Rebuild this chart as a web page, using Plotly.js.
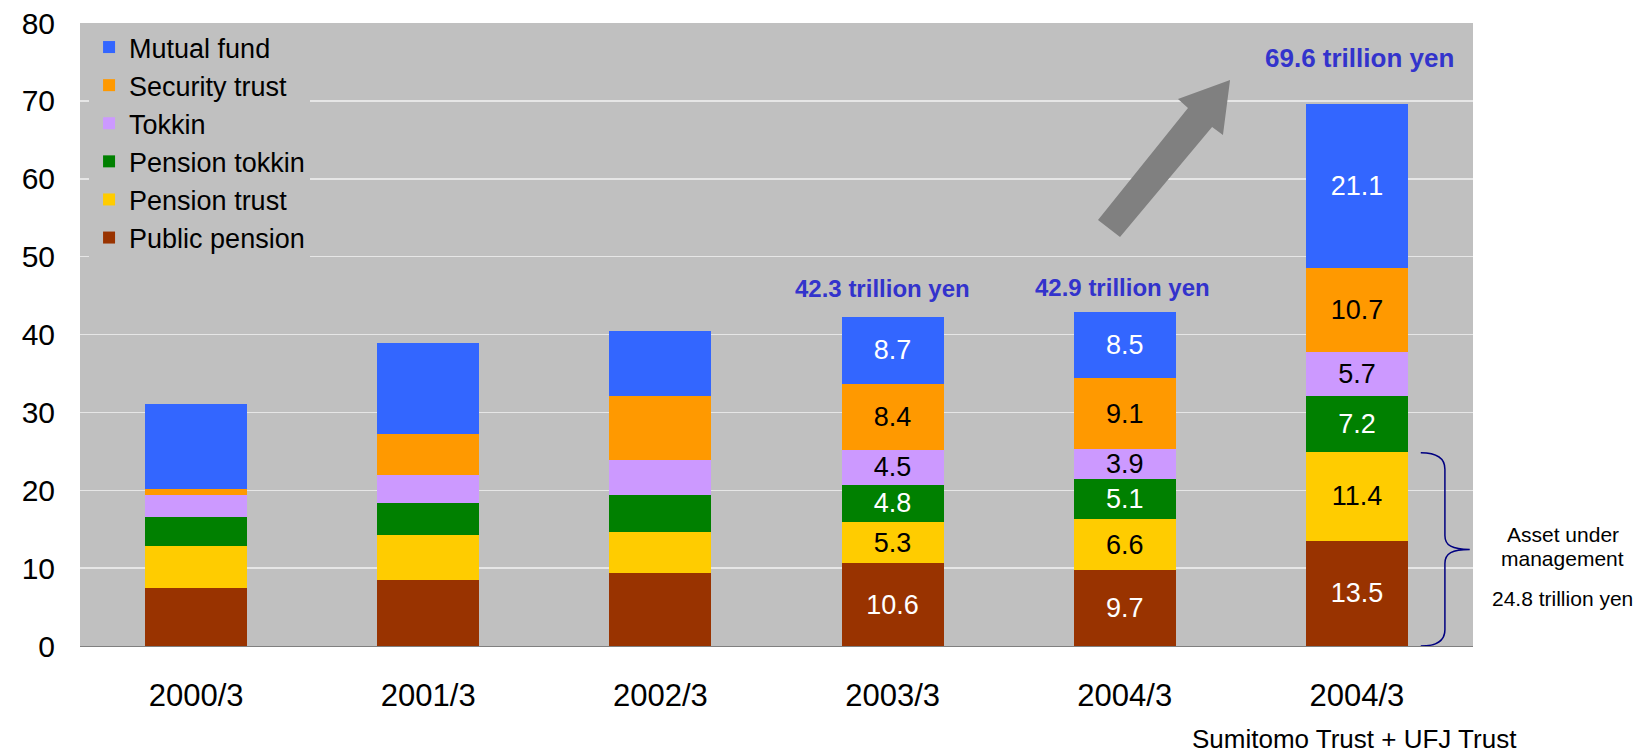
<!DOCTYPE html>
<html>
<head>
<meta charset="utf-8">
<script src="https://cdn.plot.ly/plotly-3.0.1.min.js"></script>
<style>
  html, body { margin: 0; padding: 0; background: #ffffff; }
  #chart { width: 1652px; height: 753px; }
</style>
</head>
<body>
<div id="chart"></div>
<script>
// ---- data ----
const categories = ["2000/3", "2001/3", "2002/3", "2003/3", "2004/3", "2004/3"];
const categoryNote = "Sumitomo Trust + UFJ Trust";

const publicPension  = [7.4, 8.5, 9.4, 10.6, 9.7, 13.5];
const pensionTrust   = [5.4, 5.7, 5.3, 5.3, 6.6, 11.4];
const pensionTokkin  = [3.8, 4.1, 4.7, 4.8, 5.1, 7.2];
const tokkin         = [2.8, 3.6, 4.5, 4.5, 3.9, 5.7];
const securityTrust  = [0.8, 5.3, 8.2, 8.4, 9.1, 10.7];
const mutualFund     = [10.9, 11.7, 8.4, 8.7, 8.5, 21.1];

const seriesNames = ["Public pension", "Pension trust", "Pension tokkin", "Tokkin", "Security trust", "Mutual fund"];
const labeledBars = [false, false, false, true, true, true];
const aumText = ["Asset under", "management", "24.8 trillion yen"];

// ---- styles ----
const FONT = "Liberation Sans, Arial, Helvetica, sans-serif";
const seriesColors = ["#993300", "#FFCC00", "#008000", "#CC99FF", "#FF9900", "#3366FF"];
const labelColors  = ["#FFFFFF", "#000000", "#FFFFFF", "#000000", "#000000", "#FFFFFF"];
const seriesValues = [publicPension, pensionTrust, pensionTokkin, tokkin, securityTrust, mutualFund];

const xIdx = categories.map((_, i) => i);

const traces = seriesValues.map((vals, s) => ({
  type: "bar",
  name: seriesNames[s],
  x: xIdx,
  y: vals,
  width: 0.44,
  marker: { color: seriesColors[s], line: { width: 0 } },
  text: vals.map((v, i) => labeledBars[i] ? v.toFixed(1) : ""),
  textposition: "inside",
  insidetextanchor: "middle",
  textangle: 0,
  constraintext: "none",
  textfont: { family: FONT, size: 27, color: labelColors[s] },
  hoverinfo: "name+y"
}));

const totals = xIdx.map(i => seriesValues.reduce((a, sv) => a + sv[i], 0));

const totalLabelPos = { 3: { x: 2.955, y: 45.9, size: 24 }, 4: { x: 3.99, y: 46.1, size: 24 }, 5: { x: 5.01, y: 75.5, size: 26 } };

const annotations = [];
Object.keys(totalLabelPos).forEach(k => {
  const p = totalLabelPos[k];
  annotations.push({
    x: p.x, y: p.y, xref: "x", yref: "y",
    text: "<b>" + totals[k].toFixed(1) + " trillion yen</b>",
    showarrow: false, xanchor: "center", yanchor: "middle",
    font: { family: FONT, size: p.size, color: "#3333CC" }
  });
});
annotations.push({
  x: 0.915, y: -0.149, xref: "paper", yref: "paper",
  text: categoryNote, showarrow: false, xanchor: "center", yanchor: "middle",
  font: { family: FONT, size: 26, color: "#000000" }
});
const aumY = [0.1787, 0.140, 0.0759];
aumText.forEach((t, i) => annotations.push({
  x: 1.0646, y: aumY[i], xref: "paper", yref: "paper",
  text: t, showarrow: false, xanchor: "center", yanchor: "middle",
  font: { family: FONT, size: 21, color: "#000000" }
}));

const shapes = [
  // big grey arrow
  {
    type: "path", xref: "paper", yref: "paper",
    path: "M 0.7308,0.6838 L 0.7954,0.8636 L 0.7882,0.878 L 0.8256,0.9085 L 0.8205,0.8202 L 0.8127,0.8331 L 0.7466,0.6565 Z",
    fillcolor: "#808080", line: { width: 0 }, layer: "above"
  },
  // brace
  {
    type: "path", xref: "x", yref: "y",
    path: "M 5.275,24.8 C 5.35,24.8 5.379,24.0 5.379,22.7 L 5.379,14.2 C 5.379,12.9 5.41,12.4 5.486,12.4 C 5.41,12.4 5.379,11.9 5.379,10.6 L 5.379,2.1 C 5.379,0.8 5.35,0 5.275,0",
    line: { color: "#000080", width: 1.5 }, fillcolor: "rgba(0,0,0,0)", layer: "above"
  }
];

const layout = {
  width: 1652, height: 753,
  margin: { l: 80, r: 179, t: 23, b: 107, pad: 0 },
  paper_bgcolor: "#FFFFFF",
  plot_bgcolor: "#C0C0C0",
  barmode: "stack",
  font: { family: FONT, color: "#000000" },
  showlegend: true,
  legend: {
    x: 0.0065, y: 1.0, xanchor: "left", yanchor: "top",
    bgcolor: "#C0C0C0", borderwidth: 0,
    traceorder: "reversed",
    font: { family: FONT, size: 27, color: "#000000" },
    itemclick: false
  },
  xaxis: {
    type: "linear",
    range: [-0.5, 5.5],
    tickmode: "array",
    tickvals: xIdx,
    ticktext: categories,
    showgrid: false, zeroline: false,
    showline: true, linecolor: "#808080", linewidth: 1,
    ticks: "",
    ticklabelstandoff: 22,
    tickfont: { family: FONT, size: 31, color: "#000000" },
    fixedrange: true
  },
  yaxis: {
    range: [0, 80],
    tickmode: "linear", tick0: 0, dtick: 10,
    showgrid: true, gridcolor: "#E6E6E6", gridwidth: 1.5,
    zeroline: false, showline: false,
    ticks: "",
    ticklabelstandoff: 24,
    tickfont: { family: FONT, size: 30, color: "#000000" },
    fixedrange: true
  },
  annotations: annotations,
  shapes: shapes
};

Plotly.newPlot("chart", traces, layout, { displayModeBar: false, staticPlot: true });
</script>
</body>
</html>
